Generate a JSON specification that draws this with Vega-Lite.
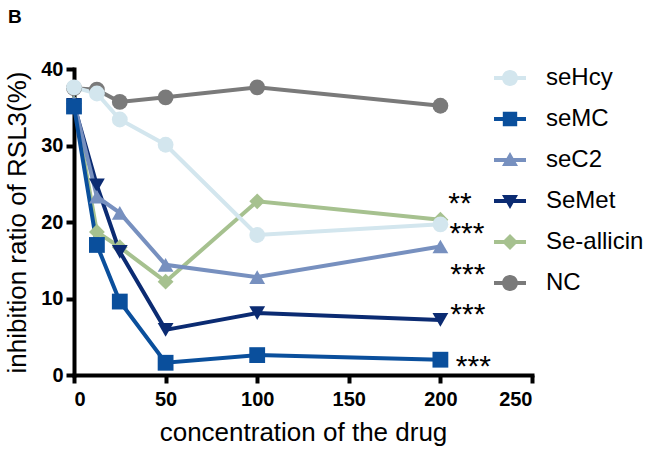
{
  "$schema": "https://vega.github.io/schema/vega-lite/v6.json",
  "autosize": {"type": "none"},
  "width": 458,
  "height": 306,
  "padding": {"left": 74, "top": 69, "right": 117, "bottom": 77},
  "title": {"text": "B", "anchor": "start", "frame": "group", "fontSize": 19, "fontWeight": "bold", "font": "Liberation Sans", "dx": -66, "offset": 32, "color": "#000000"},
  "datasets": {
    "series": [
      {"group": "NC", "conc": 0, "value": 37.5},
      {"group": "NC", "conc": 12.5, "value": 37.3},
      {"group": "NC", "conc": 25, "value": 35.7},
      {"group": "NC", "conc": 50, "value": 36.3},
      {"group": "NC", "conc": 100, "value": 37.6},
      {"group": "NC", "conc": 200, "value": 35.2},
      {"group": "Se-allicin", "conc": 0, "value": 35.5},
      {"group": "Se-allicin", "conc": 12.5, "value": 18.7},
      {"group": "Se-allicin", "conc": 25, "value": 16.7},
      {"group": "Se-allicin", "conc": 50, "value": 12.2},
      {"group": "Se-allicin", "conc": 100, "value": 22.7},
      {"group": "Se-allicin", "conc": 200, "value": 20.3},
      {"group": "SeMet", "conc": 0, "value": 35.3},
      {"group": "SeMet", "conc": 12.5, "value": 24.8},
      {"group": "SeMet", "conc": 25, "value": 16.1},
      {"group": "SeMet", "conc": 50, "value": 5.9},
      {"group": "SeMet", "conc": 100, "value": 8.1},
      {"group": "SeMet", "conc": 200, "value": 7.2},
      {"group": "seC2", "conc": 0, "value": 35.6},
      {"group": "seC2", "conc": 12.5, "value": 23.3},
      {"group": "seC2", "conc": 25, "value": 21.2},
      {"group": "seC2", "conc": 50, "value": 14.4},
      {"group": "seC2", "conc": 100, "value": 12.8},
      {"group": "seC2", "conc": 200, "value": 16.8},
      {"group": "seMC", "conc": 0, "value": 35.1},
      {"group": "seMC", "conc": 12.5, "value": 17.0},
      {"group": "seMC", "conc": 25, "value": 9.6},
      {"group": "seMC", "conc": 50, "value": 1.6},
      {"group": "seMC", "conc": 100, "value": 2.6},
      {"group": "seMC", "conc": 200, "value": 2.0},
      {"group": "seHcy", "conc": 0, "value": 37.6},
      {"group": "seHcy", "conc": 12.5, "value": 36.8},
      {"group": "seHcy", "conc": 25, "value": 33.4},
      {"group": "seHcy", "conc": 50, "value": 30.1},
      {"group": "seHcy", "conc": 100, "value": 18.3},
      {"group": "seHcy", "conc": 200, "value": 19.7}
    ],
    "stars": [
      {"conc": 210.7, "value": 23.3, "label": "**"},
      {"conc": 214.5, "value": 19.3, "label": "***"},
      {"conc": 215, "value": 14.0, "label": "***"},
      {"conc": 215, "value": 8.8, "label": "***"},
      {"conc": 218, "value": 2.0, "label": "***"}
    ]
  },
  "resolve": {"scale": {"color": "independent", "shape": "independent"}},
  "layer": [
    {
      "data": {"name": "series"},
      "mark": {"type": "line", "strokeWidth": 4},
      "encoding": {
        "x": {"field": "conc", "type": "quantitative", "scale": {"domain": [0, 250], "nice": false, "zero": true},
          "axis": {"values": [0, 50, 100, 150, 200, 250], "title": "concentration of the drug"}},
        "y": {"field": "value", "type": "quantitative", "scale": {"domain": [0, 40], "nice": false},
          "axis": {"values": [0, 10, 20, 30, 40], "title": "inhibition ratio of RSL3(%)"}},
        "color": {"field": "group", "type": "nominal", "legend": null,
          "scale": {"domain": ["seHcy", "seMC", "seC2", "SeMet", "Se-allicin", "NC"], "range": ["#d3e6ee", "#0a4f9c", "#7790bf", "#0b2b72", "#a6c18f", "#7a7a7a"]}},
        "detail": {"field": "group"}
      }
    },
    {
      "data": {"name": "series"},
      "mark": {"type": "point", "filled": true, "size": 250, "opacity": 1},
      "encoding": {
        "x": {"field": "conc", "type": "quantitative"},
        "y": {"field": "value", "type": "quantitative"},
        "color": {"field": "group", "type": "nominal", "legend": null,
          "scale": {"domain": ["seHcy", "seMC", "seC2", "SeMet", "Se-allicin", "NC"], "range": ["#d3e6ee", "#0a4f9c", "#7790bf", "#0b2b72", "#a6c18f", "#7a7a7a"]}},
        "shape": {"field": "group", "type": "nominal", "legend": null,
          "scale": {"domain": ["seHcy", "seMC", "seC2", "SeMet", "Se-allicin", "NC"], "range": ["circle", "square", "triangle-up", "triangle-down", "diamond", "circle"]}}
      }
    },
    {
      "data": {"name": "stars"},
      "mark": {"type": "text", "fontSize": 30, "font": "Liberation Sans", "align": "center", "baseline": "middle", "dy": 7, "color": "#000000"},
      "encoding": {
        "x": {"field": "conc", "type": "quantitative"},
        "y": {"field": "value", "type": "quantitative"},
        "text": {"field": "label"}
      }
    },
    {
      "data": {"name": "series"},
      "mark": {"type": "point", "filled": true, "size": 256, "opacity": 0},
      "encoding": {
        "x": {"field": "conc", "type": "quantitative"},
        "y": {"field": "value", "type": "quantitative"},
        "color": {"field": "group", "type": "nominal",
          "scale": {"domain": ["seHcy", "seMC", "seC2", "SeMet", "Se-allicin", "NC"], "range": ["#d3e6ee", "#0a4f9c", "#7790bf", "#0b2b72", "#a6c18f", "#7a7a7a"]},
          "legend": {"title": null, "orient": "none", "legendX": 424, "legendY": -3, "symbolSize": 256, "symbolOpacity": 1, "symbolStrokeWidth": 0, "labelFontSize": 24, "labelFont": "Liberation Sans", "labelColor": "#000000", "labelOffset": 24, "rowPadding": 17, "padding": 0}},
        "shape": {"field": "group", "type": "nominal",
          "scale": {"domain": ["seHcy", "seMC", "seC2", "SeMet", "Se-allicin", "NC"], "range": [
            "M-2,-0.25 L2,-0.25 L2,0.25 L-2,0.25 Z M-1,0 A1,1 0 1,1 1,0 A1,1 0 1,1 -1,0 Z",
            "M-2,-0.25 L2,-0.25 L2,0.25 L-2,0.25 Z M-0.9,-0.9 L0.9,-0.9 L0.9,0.9 L-0.9,0.9 Z",
            "M-2,-0.25 L2,-0.25 L2,0.25 L-2,0.25 Z M0,-1 L1,0.75 L-1,0.75 Z",
            "M-2,-0.25 L2,-0.25 L2,0.25 L-2,0.25 Z M-1,-0.75 L1,-0.75 L0,1 Z",
            "M-2,-0.25 L2,-0.25 L2,0.25 L-2,0.25 Z M0,-1 L1,0 L0,1 L-1,0 Z",
            "M-2,-0.25 L2,-0.25 L2,0.25 L-2,0.25 Z M-1,0 A1,1 0 1,1 1,0 A1,1 0 1,1 -1,0 Z"
          ]},
          "legend": {"title": null, "orient": "none", "legendX": 424, "legendY": -3, "symbolSize": 256, "symbolOpacity": 1, "symbolStrokeWidth": 0, "labelFontSize": 24, "labelFont": "Liberation Sans", "labelColor": "#000000", "labelOffset": 24, "rowPadding": 17, "padding": 0}}
      }
    }
  ],
  "config": {
    "view": {"stroke": null},
    "font": "Liberation Sans",
    "axis": {
      "grid": false,
      "domainColor": "#000000",
      "domainWidth": 4,
      "domainCap": "square",
      "tickColor": "#000000",
      "tickWidth": 4,
      "tickSize": 8,
      "labelFont": "Liberation Sans",
      "labelFontSize": 20,
      "labelFontWeight": "bold",
      "labelColor": "#000000",
      "titleFont": "Liberation Sans",
      "titleFontSize": 26,
      "titleFontWeight": "normal",
      "titleColor": "#000000"
    },
    "axisX": {"labelPadding": 6, "titlePadding": 10},
    "axisY": {"labelPadding": 3, "titlePadding": 10}
  }
}
